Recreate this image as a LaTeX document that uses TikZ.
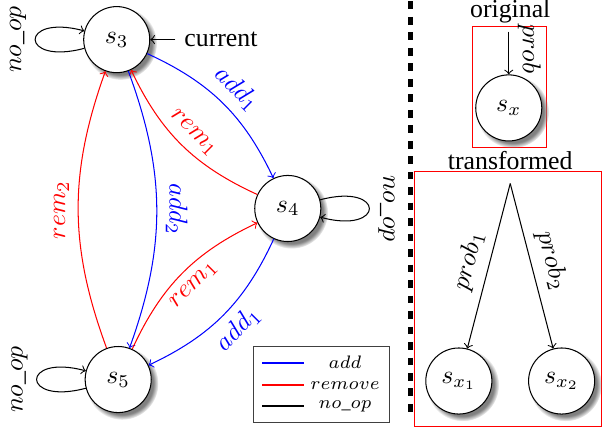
\documentclass[tikz,border=0pt]{standalone}
\usepackage[no-math]{fontspec}
\setmainfont{Liberation Serif}
\usetikzlibrary{shadows}

\begin{document}
\begin{tikzpicture}[
  stnode/.style={circle,draw,fill=white,circular drop shadow,minimum size=0.9cm,inner sep=0pt},
  addedge/.style={->,blue,bend left=20},
  remedge/.style={->,red,bend left=20},
  opedge/.style={->,black},
  oploop/.style={->,black,looseness=10}]
\useasboundingbox (0,0) rectangle (8.2,5.84);
%states
\node[stnode] (s3) at (1.59,5.30) {$s_3$};
\node[stnode] (s4) at (3.92,3.00) {$s_4$};
\node[stnode] (s5) at (1.61,0.67) {$s_5$};
\node (cur) at (3.01,5.30) {current};
\draw[opedge] (cur) -- (s3);
%no_op loops
\path (s3) edge[loop left,oploop] node[rotate=90,anchor=south] {$no\_op$} (s3);
\path (s4) edge[loop right,oploop] node[rotate=-90,anchor=south] {$no\_op$} (s4);
\path (s5) edge[loop left,oploop] node[rotate=90,anchor=south] {$no\_op$} (s5);
%add / remove
\draw[addedge] (s3) to node[midway,sloped,above] {$add_1$} (s4);
\draw[remedge] (s4) to node[midway,sloped,above] {$rem_1$} (s3);
\draw[addedge] (s3) to node[midway,rotate=-90,anchor=south] {$add_2$} (s5);
\draw[remedge] (s5) to node[midway,rotate=90,anchor=south] {$rem_2$} (s3);
\draw[remedge] (s5) to node[midway,sloped,below] {$rem_1$} (s4);
\draw[addedge] (s4) to node[midway,sloped,below] {$add_1$} (s5);
%legend
\draw[black!75] (3.45,0.08) rectangle (5.31,1.12);
\draw[blue,thick] (3.57,0.90) -- (4.14,0.90);
\node[font=\scriptsize] (ladd) at (4.70,0.90) {$add$};
\draw[red,thick] (3.57,0.59) -- (4.14,0.59);
\node[font=\scriptsize] (lrem) at (4.70,0.59) {$remove$};
\draw[black,thick] (3.57,0.31) -- (4.14,0.31);
\node[font=\scriptsize] (lop) at (4.70,0.31) {$no\_op$};
%separator
\draw[line width=1.9pt,dashed] (5.59,5.82) -- (5.59,0.15);
%original
\node (orig) at (6.95,5.68) {original};
\draw[red] (6.43,3.83) rectangle (7.45,5.48);
\node[stnode] (sx) at (6.93,4.37) {$s_x$};
\coordinate (ostart) at (6.93,5.41);
\draw[opedge] (ostart) -- node[pos=0.4,rotate=-90,anchor=south] {$prob$} (sx);
%transformed
\node (trans) at (6.95,3.65) {transformed};
\draw[red] (5.65,0.03) rectangle (8.19,3.51);
\node[stnode] (sx1) at (6.25,0.65) {$s_{x_1}$};
\node[stnode] (sx2) at (7.65,0.65) {$s_{x_2}$};
\coordinate (tstart) at (6.95,3.34);
\draw[opedge] (tstart) -- node[midway,sloped,above] {$prob_1$} (sx1);
\draw[opedge] (tstart) -- node[midway,sloped,above] {$prob_2$} (sx2);
\end{tikzpicture}
\end{document}
